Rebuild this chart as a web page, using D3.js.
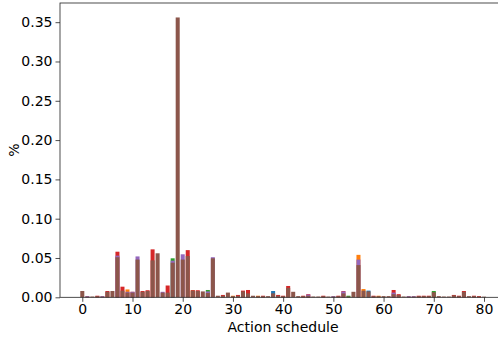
<!DOCTYPE html>
<html><head><meta charset="utf-8">
<script src="https://cdn.jsdelivr.net/npm/d3@7"></script>
<style>body{margin:0;background:#fff}svg{display:block}</style>
</head><body>
<svg id="c" width="498" height="337"></svg>
<script>
// schedule index 0..80
const schedules = d3.range(0, 81);
const xTicks = [0,10,20,30,40,50,60,70,80];
const yTicks = [0,0.05,0.10,0.15,0.20,0.25,0.30,0.35];
const colors = ["#1f77b4","#ff7f0e","#2ca02c","#d62728","#9467bd","#8c564b"];

// series values (sparse: index -> value), drawn in order, later ones on top
const s0 = {38:0.008, 57:0.0085};
const s1 = {9:0.010, 22:0.009, 30:0.002, 35:0.002, 55:0.054, 56:0.0105, 59:0.002};
const s2 = {18:0.0496, 25:0.0093, 53:0.002, 70:0.008};
const s3 = {3:0.002, 5:0.008, 7:0.058, 8:0.0135, 10:0.007, 12:0.008, 13:0.009, 14:0.061, 17:0.015,
  21:0.060, 22:0.009, 23:0.009, 28:0.003, 31:0.003, 32:0.0085, 33:0.0093, 36:0.002, 39:0.003,
  40:0.002, 41:0.0144, 44:0.002, 45:0.004, 48:0.002, 51:0.002, 52:0.008, 58:0.002, 62:0.0093,
  63:0.004, 67:0.002, 68:0.002, 69:0.002, 74:0.003, 75:0.002, 76:0.008, 78:0.002, 79:0.0015};
const s4 = {1:0.0015, 4:0.0015, 7:0.053, 9:0.007, 10:0.007, 11:0.052, 16:0.007, 18:0.0466, 20:0.0547,
  25:0.0075, 26:0.051, 45:0.0035, 50:0.0015, 52:0.0075, 55:0.048, 62:0.006, 65:0.0015, 66:0.0015};
const s5 = [0.008,0.001,0.001,0.0015,0.001,0.007,0.008,0.051,0.0085,0.006,
  0.006,0.048,0.007,0.008,0.047,0.056,0.006,0.006,0.044,0.356,
  0.048,0.0525,0.0085,0.008,0.0075,0.0055,0.0496,0.002,0.002,0.006,
  0.0015,0.002,0.0075,0.005,0.002,0.0015,0.0015,0.0015,0.005,0.002,
  0.0015,0.012,0.007,0.0015,0.0015,0.002,0.001,0.001,0.0015,0.001,
  0.001,0.0015,0.005,0.001,0.007,0.041,0.0085,0.0075,0.0015,0.0015,
  0.0015,0.0015,0.004,0.003,0.001,0.001,0.001,0.0015,0.0015,0.0015,
  0.0065,0.0015,0.001,0.001,0.0025,0.0015,0.007,0.0015,0.0015,0.001,0.0008];

const toArr = o => Array.isArray(o) ? o : schedules.map(i => o[i] || 0);
const series = [s0,s1,s2,s3,s4,s5].map(toArr);

const svg = d3.select("#c");
const L = 60, T = 3, R = 506.3, B = 297.3;
const x = d3.scaleLinear().domain([-4.44, 84.44]).range([L, R]);
const y = d3.scaleLinear().domain([0, 0.3744]).range([B, T]);
const bw = x(0.8) - x(0);
const font = "DejaVu Sans, sans-serif";

series.forEach((vals, k) => {
  svg.append("g").selectAll("rect").data(vals.map((v,i)=>({i,v})).filter(d=>d.v>0))
    .join("rect")
    .attr("x", d => x(d.i - 0.4)).attr("width", bw)
    .attr("y", d => y(d.v)).attr("height", d => B - y(d.v))
    .attr("fill", colors[k]);
});

// frame
svg.append("rect").attr("x", L).attr("y", T).attr("width", R - L).attr("height", B - T)
  .attr("fill", "none").attr("stroke", "#222").attr("stroke-width", 0.8);

const xa = svg.append("g").attr("transform", `translate(0,${B})`)
  .call(d3.axisBottom(x).tickValues(xTicks).tickFormat(d3.format("d")).tickSize(4.5).tickPadding(2));
const ya = svg.append("g").attr("transform", `translate(${L},0)`)
  .call(d3.axisLeft(y).tickValues(yTicks).tickFormat(d3.format(".2f")).tickSize(4.5).tickPadding(3));
[xa, ya].forEach(a => {
  a.select(".domain").remove();
  a.selectAll("line").attr("stroke", "#222").attr("stroke-width", 0.8);
  a.selectAll("text").attr("font-family", font).attr("font-size", 14).attr("fill", "#000");
});

svg.append("text").attr("x", 283).attr("y", 332)
  .attr("text-anchor", "middle").attr("font-family", font).attr("font-size", 14)
  .text("Action schedule");
svg.append("text").attr("transform", `translate(19,${(T + B) / 2}) rotate(-90)`)
  .attr("text-anchor", "middle").attr("font-family", font).attr("font-size", 14)
  .text("%");
</script>
</body></html>
